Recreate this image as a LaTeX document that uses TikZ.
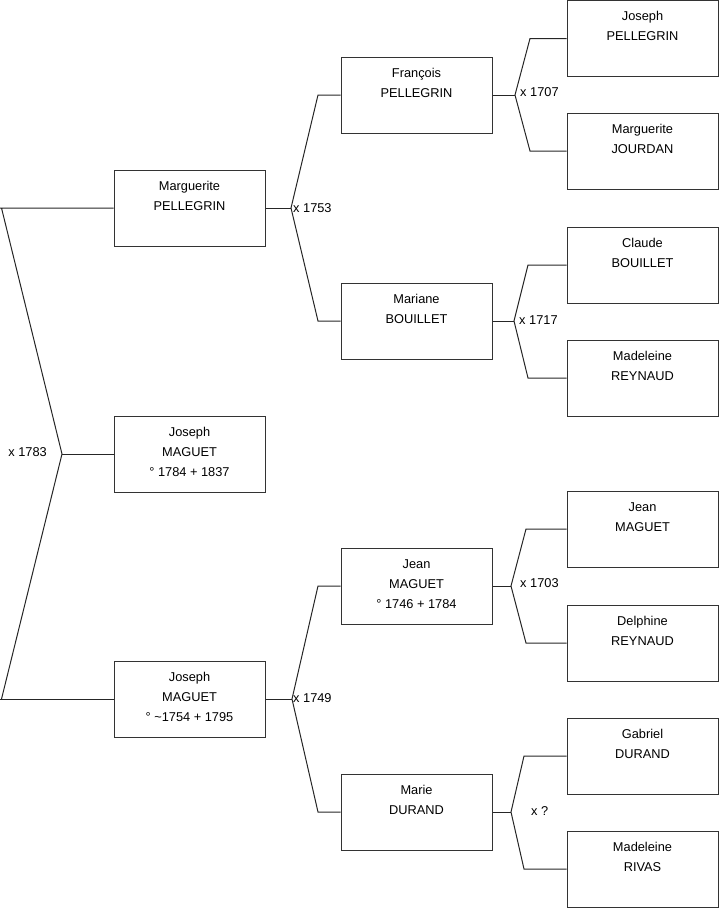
\documentclass[tikz,border=0pt]{standalone}
\usepackage{fontspec}
\setmainfont{Liberation Sans}
\newcommand\lastln{\rule[-10pt]{0pt}{10pt}}
\begin{document}
\begin{tikzpicture}[x=1pt,y=-1pt,
  person/.style={draw=black!80, line width=1pt, minimum width=151pt, minimum height=76pt,
    inner sep=0pt, align=center, font=\fontsize{12.8}{20}\selectfont},
  link/.style={draw=black!85, line width=1pt},
  marr/.style={font=\fontsize{12.8}{15}\selectfont, inner sep=0pt}]
\useasboundingbox (0,0) rectangle (719,908);
% generation 1
\node[person] (g1a) at (189.5,208) {\strut Marguerite\\PELLEGRIN\\\lastln};
\node[person] (root) at (189.5,454) {\strut Joseph\\MAGUET\\\lastln ° 1784 + 1837};
\node[person] (g1c) at (189.5,699) {\strut Joseph\\MAGUET\\\lastln ° \textasciitilde1754 + 1795};
% generation 2
\node[person] (g2a) at (416.5,95) {\strut François\\PELLEGRIN\\\lastln};
\node[person] (g2b) at (416.5,321) {\strut Mariane\\BOUILLET\\\lastln};
\node[person] (g2c) at (416.5,586) {\strut Jean\\MAGUET\\\lastln ° 1746 + 1784};
\node[person] (g2d) at (416.5,812) {\strut Marie\\DURAND\\\lastln};
% generation 3
\node[person] (g3a) at (642.5,38.5) {\strut Joseph\\PELLEGRIN\\\lastln};
\node[person] (g3b) at (642.5,151) {\strut Marguerite\\JOURDAN\\\lastln};
\node[person] (g3c) at (642.5,265) {\strut Claude\\BOUILLET\\\lastln};
\node[person] (g3d) at (642.5,378) {\strut Madeleine\\REYNAUD\\\lastln};
\node[person] (g3e) at (642.5,529) {\strut Jean\\MAGUET\\\lastln};
\node[person] (g3f) at (642.5,643) {\strut Delphine\\REYNAUD\\\lastln};
\node[person] (g3g) at (642.5,756) {\strut Gabriel\\DURAND\\\lastln};
\node[person] (g3h) at (642.5,869) {\strut Madeleine\\RIVAS\\\lastln};
% junctions and elbows
\coordinate (j0) at (62,454);  \coordinate (e0a) at (1.5,208);   \coordinate (e0b) at (1.5,699);
\coordinate (j1) at (291,208); \coordinate (e1a) at (318,95);  \coordinate (e1b) at (318,321);
\coordinate (j2) at (292,699); \coordinate (e2a) at (318,586); \coordinate (e2b) at (318,812);
\coordinate (j3) at (515,95);  \coordinate (e3a) at (530,38.5);\coordinate (e3b) at (530,151);
\coordinate (j4) at (514,321); \coordinate (e4a) at (528,265); \coordinate (e4b) at (528,378);
\coordinate (j5) at (511,586); \coordinate (e5a) at (526,529); \coordinate (e5b) at (526,643);
\coordinate (j6) at (511,812); \coordinate (e6a) at (524,756); \coordinate (e6b) at (524,869);
% connectors
\draw[link] (root.west) -- (j0);
\draw[link] (g1a.west) -- (0,208) (e0a) -- (j0) -- (e0b);
\draw[link] (g1c.west) -- (0,699);
\draw[link] (g1a.east) -- (j1);
\draw[link] (g2a.west) -- (e1a) -- (j1) -- (e1b) -- (g2b.west);
\draw[link] (g1c.east) -- (j2);
\draw[link] (g2c.west) -- (e2a) -- (j2) -- (e2b) -- (g2d.west);
\draw[link] (g2a.east) -- (j3);
\draw[link] (g3a.west) -- (e3a) -- (j3) -- (e3b) -- (g3b.west);
\draw[link] (g2b.east) -- (j4);
\draw[link] (g3c.west) -- (e4a) -- (j4) -- (e4b) -- (g3d.west);
\draw[link] (g2c.east) -- (j5);
\draw[link] (g3e.west) -- (e5a) -- (j5) -- (e5b) -- (g3f.west);
\draw[link] (g2d.east) -- (j6);
\draw[link] (g3g.west) -- (e6a) -- (j6) -- (e6b) -- (g3h.west);
% marriage labels
\node[marr, anchor=east] (m0) at (47,452) {x 1783};
\node[marr, anchor=west] (m1) at (293,208) {x 1753};
\node[marr, anchor=west] (m2) at (293,698) {x 1749};
\node[marr, anchor=west] (m3) at (520,92) {x 1707};
\node[marr, anchor=west] (m4) at (519,320) {x 1717};
\node[marr, anchor=west] (m5) at (520,583) {x 1703};
\node[marr, anchor=west] (m6) at (531,811) {x ?};
\end{tikzpicture}
\end{document}
